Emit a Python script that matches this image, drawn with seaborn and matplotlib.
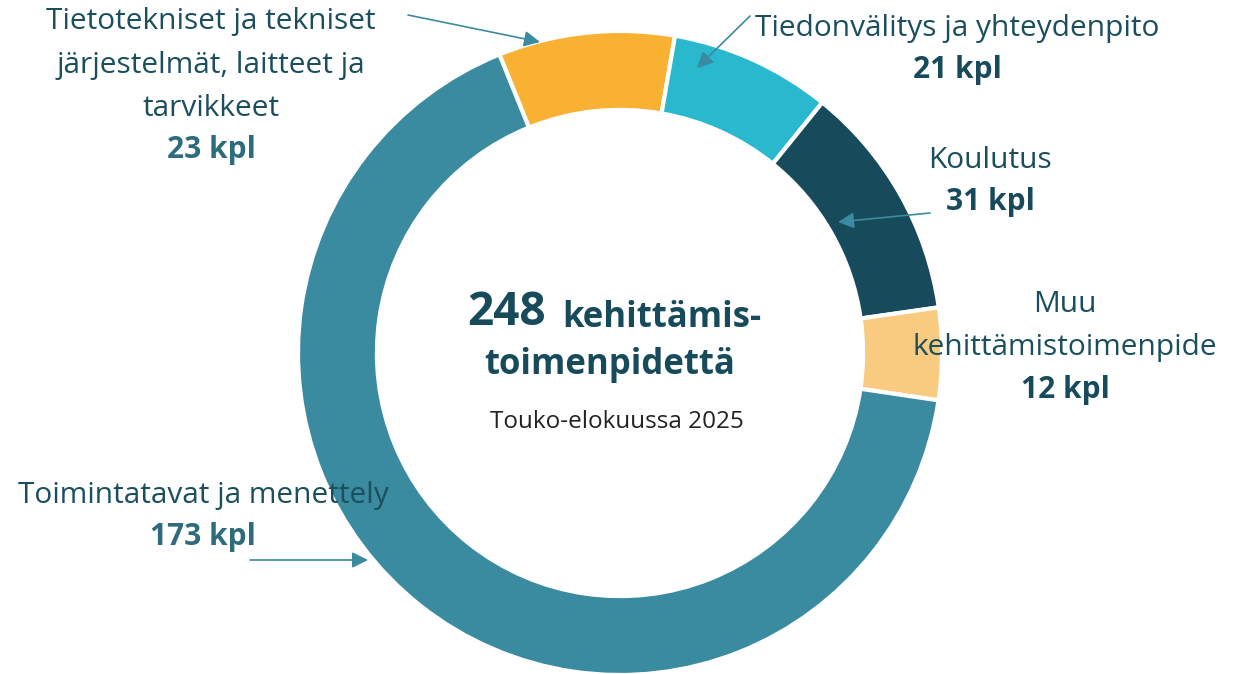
import matplotlib
matplotlib.use('Agg')
import matplotlib.pyplot as plt
import seaborn as sns

# data
categories = ['Tietotekniset ja tekniset\njärjestelmät, laitteet ja\ntarvikkeet',
              'Tiedonvälitys ja yhteydenpito',
              'Koulutus',
              'Muu\nkehittämistoimenpide',
              'Toimintatavat ja menettely']
counts = [23, 21, 31, 12, 173]
total_label = 248
period = 'Touko-elokuussa 2025'
colors = ['#F8B133', '#2AB8CF', '#174B5C', '#F9CB80', '#3A8BA0']

sns.set_theme(style='white')
plt.rcParams['font.family'] = ['Open Sans', 'DejaVu Sans']

W, H = 1235, 674
CX, CY, R = 620, 353, 322

fig = plt.figure(figsize=(W / 100, H / 100), dpi=100)
ax = fig.add_axes([0, 0, 1, 1])


def px(x, y):
    return ((x - CX) / R, (CY - y) / R)


ax.pie(counts, colors=colors, startangle=112, counterclock=False,
       radius=1, wedgeprops=dict(width=0.245, edgecolor='white', linewidth=3))
ax.set_xlim(-CX / R, (W - CX) / R)
ax.set_ylim((CY - H) / R, CY / R)
ax.axis('off')

txt = '#1B4F5E'
bold_light = '#2E6B7D'
arrow_c = '#3A8BA0'

# label blocks: (name position, count position, count colour)
label_pos = [((211, 65), (211, 150), bold_light),
             ((957, 28), (957, 70), '#174B5C'),
             ((990, 160), (990, 202), '#174B5C'),
             ((1065, 326), (1065, 390), '#174B5C'),
             ((203, 496), (203, 537), bold_light)]

for name, n, (npos, cpos, ccol) in zip(categories, counts, label_pos):
    ax.text(*px(*npos), name, ha='center', va='center', fontsize=21.5,
            color=txt, linespacing=1.68)
    ax.text(*px(*cpos), f'{n} kpl', ha='center', va='center', fontsize=21.5,
            color=ccol, fontweight='bold')

arrows = [((408, 15), (540, 42)),
          ((750, 16), (697, 68)),
          ((930, 213), (838, 222)),
          ((250, 560), (368, 560))]
for start, tip in arrows:
    ax.annotate('', xy=px(*tip), xytext=px(*start),
                arrowprops=dict(arrowstyle='-|>', color=arrow_c, lw=1.2,
                                mutation_scale=24, shrinkA=0, shrinkB=0))

ax.text(*px(467, 312), f'{total_label}', ha='left', va='center', fontsize=33,
        color='#174B5C', fontweight='bold')
ax.text(*px(562, 318), 'kehittämis-', ha='left', va='center', fontsize=25,
        color='#174B5C', fontweight='bold')
ax.text(*px(610, 365), 'toimenpidettä', ha='center', va='center', fontsize=25,
        color='#174B5C', fontweight='bold')
ax.text(*px(617, 422), period, ha='center', va='center', fontsize=17.5,
        color='#222222')

fig.savefig('out.png', dpi=100)
